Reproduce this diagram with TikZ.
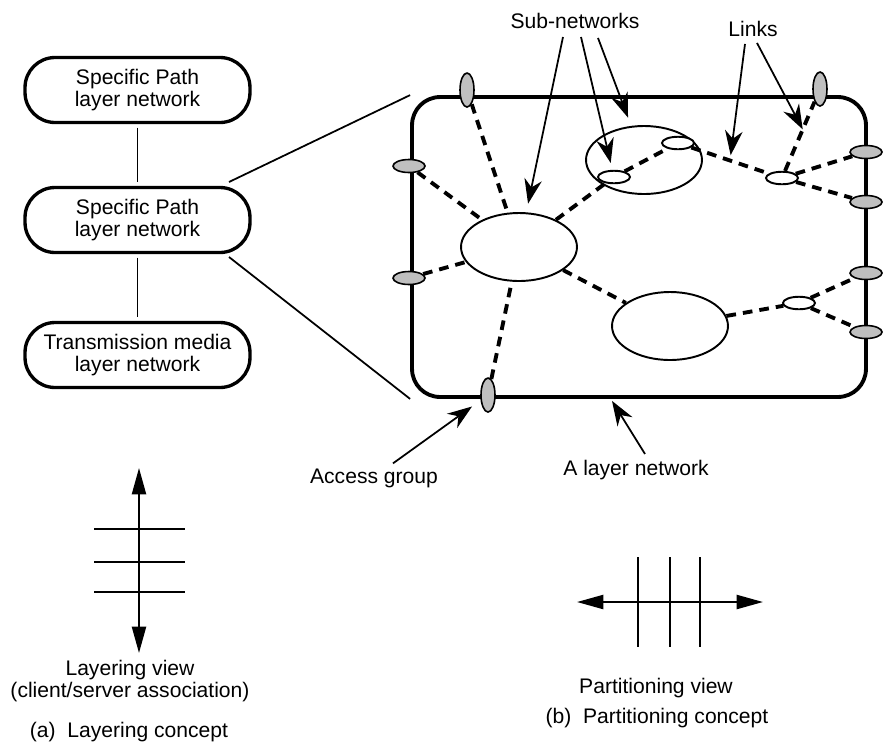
\documentclass[tikz,border=0pt]{standalone}
\usepackage{fontspec}
\setmainfont{Liberation Sans}
\usetikzlibrary{arrows.meta,positioning,calc,shapes.geometric}

\begin{document}
\begin{tikzpicture}[x=0.02cm, y=-0.02cm,
    font=\fontsize{12}{13}\selectfont,
    layerbox/.style={rectangle, draw=black, line width=1.9pt, rounded corners=0.6cm, minimum width=4.5cm, minimum height=1.3cm, align=center, inner sep=0pt},
    netbox/.style={rectangle, draw=black, line width=2.2pt, rounded corners=0.56cm, minimum width=9.08cm, minimum height=6cm},
    subnet/.style={ellipse, draw=black, line width=1.1pt, fill=white, minimum width=2.32cm, minimum height=1.36cm, inner sep=0pt},
    smallnet/.style={ellipse, draw=black, line width=1.1pt, fill=white, minimum width=0.64cm, minimum height=0.25cm, inner sep=0pt},
    accessv/.style={ellipse, draw=black, line width=0.9pt, fill=gray!50, minimum width=0.28cm, minimum height=0.68cm, inner sep=0pt},
    accessh/.style={accessv, minimum width=0.64cm, minimum height=0.26cm},
    link/.style={line width=2.2pt, dash pattern=on 5.5pt off 4pt},
    thinline/.style={line width=1pt},
    arrow/.style={-{Stealth[length=14pt, width=10pt, inset=4.5pt]}, line width=1pt},
    bigarrow/.style={{Triangle[length=15pt, width=8pt]}-{Triangle[length=15pt, width=8pt]}, line width=1.2pt}
]
\useasboundingbox (0,0) rectangle (883,745);

% Layer stack
\node[layerbox] (sp1) at (137.5, 90) {Specific Path\\layer network};
\node[layerbox] (sp2) at (137.5, 220) {Specific Path\\layer network};
\node[layerbox] (tm) at (137.5, 355) {Transmission media\\layer network};

\draw[thinline, shorten <=2pt, shorten >=2pt] (sp1) -- (sp2);
\draw[thinline, shorten <=2pt, shorten >=2pt] (sp2) -- (tm);

% The layer network
\node[netbox] (net) at (639, 247) {};

\coordinate (zt) at (229, 182);
\coordinate (zb) at (229, 257);
\draw[thinline] (zt) -- (net.north west);
\draw[thinline] (zb) -- (net.south west);

% Sub-networks
\node[subnet] (sn1) at (519, 247) {};
\node[subnet] (sn2) at (644, 160) {};
\node[subnet] (sn3) at (670, 326) {};

\node[smallnet] (se1) at (614, 177) {};
\node[smallnet] (se2) at (678, 143) {};
\node[smallnet] (se3) at (782, 178) {};
\node[smallnet] (se4) at (799, 303) {};

% Access groups
\node[accessv] (agt) at (467, 90) {};
\node[accessv] (agr) at (820, 89) {};
\node[accessv] (agb) at (488, 395) {};
\node[accessh] (agl1) at (409, 166) {};
\node[accessh] (agl2) at (409, 278) {};
\node[accessh] (agr1) at (866, 152) {};
\node[accessh] (agr2) at (866, 202) {};
\node[accessh] (agr3) at (866, 273) {};
\node[accessh] (agr4) at (866, 332) {};

% Links
\draw[link] (agt) -- (sn1);
\draw[link] (agl1) -- (sn1);
\draw[link] (agl2) -- (sn1);
\draw[link] (agb) -- (sn1);
\draw[link] (sn1) -- (se1);
\draw[link] (se1) -- (se2);
\draw[link] (se2) -- (se3) coordinate[pos=0.5] (lk1);
\draw[link] (se3) -- (agr) coordinate[pos=0.6] (lk2);
\draw[link] (se3) -- (agr1);
\draw[link] (se3) -- (agr2);
\draw[link] (sn1) -- (sn3);
\draw[link] (sn3) -- (se4);
\draw[link] (se4) -- (agr3);
\draw[link] (se4) -- (agr4);

% Labels and pointers
\node (lblsub) at (575, 21) {Sub-networks};
\node (lbllink) at (753, 29) {Links};
\node (lblacc) at (374, 478) {Access group};
\node (lblnet) at (636, 470) {A layer network};

\draw[arrow, shorten >=5pt] ($(lblsub.south)+(-12,2)$) -- (sn1);
\draw[arrow, shorten >=4pt] ($(lblsub.south)+(6,2)$) -- (se1);
\draw[arrow, shorten >=5pt] ($(lblsub.south)+(23,3)$) -- (sn2);
\draw[arrow, shorten >=3pt] ($(lbllink.south)+(-8,1)$) -- (lk1);
\draw[arrow] ($(lbllink.south)+(4,0)$) -- (lk2);
\draw[arrow, shorten >=6pt] ($(lblacc.north)+(19,1)$) -- (agb);
\draw[arrow] ($(lblnet.north)+(9,0)$) -- ($(net.south)+(-27,2)$);

% Layering view
\draw[bigarrow] (139, 468) -- (139, 653);
\foreach \y in {529, 562, 592}
    \draw[line width=1.1pt] (94, \y) -- (185, \y);
\node[align=center] (lblview) at (130, 681) {Layering view\\(client/server association)};
\node (capa) at (129, 732) {(a)\ \ Layering concept};

% Partitioning view
\draw[bigarrow] (577, 602) -- (763, 602);
\foreach \x in {638, 670, 700}
    \draw[line width=1.1pt] (\x, 557) -- (\x, 647);
\node (lblpart) at (656, 688) {Partitioning view};
\node (capb) at (657, 718) {(b)\ \ Partitioning concept};

\end{tikzpicture}
\end{document}
